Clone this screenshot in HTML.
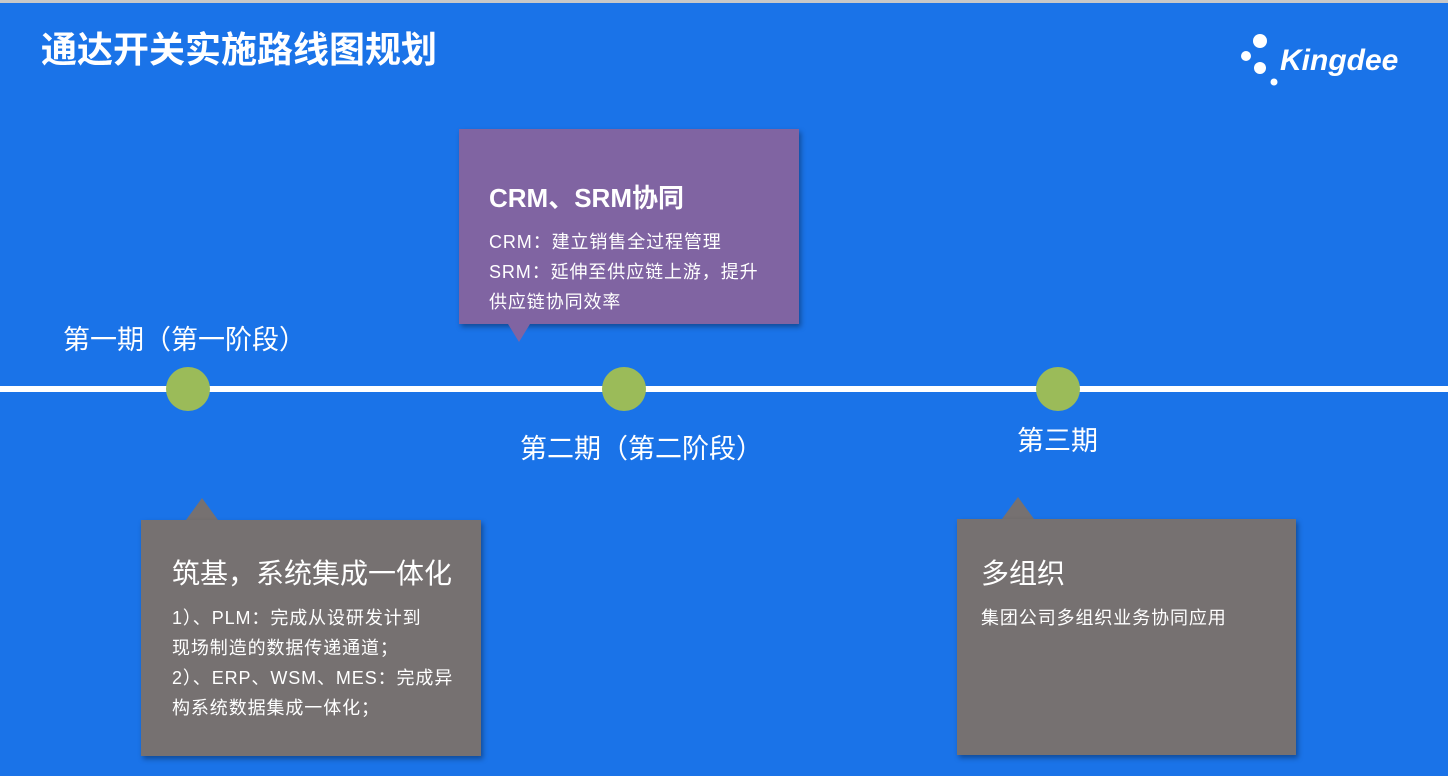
<!DOCTYPE html>
<html><head><meta charset="utf-8"><style>
body{margin:0;width:1448px;height:776px;overflow:hidden;background:#1a73e8;position:relative;font-family:"Liberation Sans","Noto Sans CJK SC",sans-serif;color:#fff}
.a{position:absolute;white-space:nowrap}
.top{left:0;top:0;width:1448px;height:3px;background:#c8c8c8}
.t{left:41px;top:21px;font-size:36px;font-weight:bold}
.line{left:0;top:386px;width:1448px;height:6px;background:#fff}
.c{width:44px;height:44px;border-radius:50%;background:#9bbb59;top:367px}
.lbl{font-size:27px}
.box{box-shadow:2px 3px 5px rgba(0,0,0,.35)}
.h{font-size:26px;font-weight:bold}
.p{font-size:18px;line-height:30px;letter-spacing:0.9px}
</style></head><body>
<div class="a top"></div>
<div class="a t">通达开关实施路线图规划</div>
<svg class="a" style="left:1236px;top:30px" width="175" height="60">
<circle cx="24" cy="11" r="7" fill="#fff"/><circle cx="10" cy="26" r="5" fill="#fff"/><circle cx="24" cy="38" r="6" fill="#fff"/><circle cx="38" cy="52" r="3.5" fill="#fff"/>
<text x="44" y="40" font-family="Liberation Sans" font-weight="bold" font-style="italic" font-size="30" fill="#fff">Kingdee</text></svg>

<div class="a line"></div>
<div class="a c" style="left:166px"></div>
<div class="a c" style="left:602px"></div>
<div class="a c" style="left:1036px"></div>
<div class="a lbl" style="left:63px;top:318px">第一期（第一阶段）</div>
<div class="a lbl" style="left:520px;top:427px">第二期（第二阶段）</div>
<div class="a lbl" style="left:1017px;top:419px">第三期</div>

<div class="a box" style="left:459px;top:129px;width:340px;height:195px;background:#8064a2"></div>
<div class="a" style="left:508px;top:324px;width:0;height:0;border-left:11px solid transparent;border-right:11px solid transparent;border-top:18px solid #8064a2"></div>
<div class="a h" style="left:489px;top:178px">CRM、SRM协同</div>
<div class="a p" style="left:489px;top:227px">CRM：建立销售全过程管理<br>SRM：延伸至供应链上游，提升<br>供应链协同效率</div>

<div class="a" style="left:186px;top:498px;width:0;height:0;border-left:16px solid transparent;border-right:16px solid transparent;border-bottom:22px solid #767171"></div>
<div class="a box" style="left:141px;top:520px;width:340px;height:236px;background:#767171"></div>
<div class="a h" style="left:172px;top:552px;font-weight:normal;font-size:28px">筑基，系统集成一体化</div>
<div class="a p" style="left:172px;top:603px">1）、PLM：完成从设研发计到<br>现场制造的数据传递通道；<br>2）、ERP、WSM、MES：完成异<br>构系统数据集成一体化；</div>

<div class="a" style="left:1002px;top:497px;width:0;height:0;border-left:16px solid transparent;border-right:16px solid transparent;border-bottom:22px solid #767171"></div>
<div class="a box" style="left:957px;top:519px;width:339px;height:236px;background:#767171"></div>
<div class="a h" style="left:981px;top:552px;font-weight:normal;font-size:28px">多组织</div>
<div class="a p" style="left:981px;top:603px">集团公司多组织业务协同应用</div>
</body></html>
